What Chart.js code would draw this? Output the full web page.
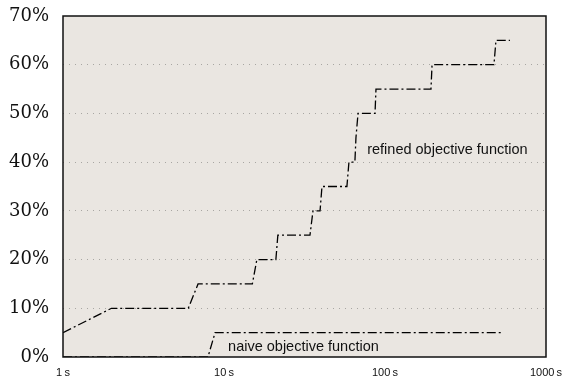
<!DOCTYPE html>
<html>
<head>
<meta charset="utf-8">
<script src="https://cdn.jsdelivr.net/npm/chart.js@4/dist/chart.umd.min.js"></script>
<style>
  html, body { margin: 0; padding: 0; background: #fff; }
  #wrap { width: 563px; height: 379px; }
</style>
</head>
<body>
<div id="wrap"><canvas id="chart" width="563" height="379"></canvas></div>
<script>
// temps (s) et pourcentage résolu
const refinedT   = [1, 2, 6, 6.9, 15, 16, 21, 21.6, 34.2, 35.7, 39.5, 40.6, 58, 59.7, 65, 66, 68, 86.7, 87.9, 193, 196, 475, 489, 597];
const refinedPct = [5, 10, 10, 15, 15, 20, 20, 25, 25, 30, 30, 35, 35, 40, 40, 45, 50, 50, 55, 55, 60, 60, 65, 65];
const naiveT     = [1, 7.95, 8.8, 540];
const naivePct   = [0, 0, 5, 5];
const xTicks     = [1, 10, 100, 1000];
const xLabels    = ['1\u2009s', '10\u2009s', '100\u2009s', '1000\u2009s'];
const seriesNames = ['refined objective function', 'naive objective function'];

window.onload = () => {
    const ctx = document.getElementById('chart').getContext('2d');

    const toPoints = (xs, ys) => xs.map((t, i) => ({ x: t, y: ys[i] }));

    // fond gris + cadre
    const plotBg = {
        id: 'plotBg',
        beforeDraw(chart) {
            const a = chart.chartArea;
            const c = chart.ctx;
            c.save();
            c.fillStyle = '#eae6e1';
            c.fillRect(a.left, a.top, a.right - a.left, a.bottom - a.top);
            c.restore();
        },
        afterDraw(chart) {
            const a = chart.chartArea;
            const c = chart.ctx;
            c.save();
            c.strokeStyle = '#111';
            c.lineWidth = 1.5;
            c.strokeRect(a.left, a.top, a.right - a.left, a.bottom - a.top);
            // étiquettes des courbes
            const xs = chart.scales.x, ys = chart.scales.y;
            c.fillStyle = '#111';
            c.font = '14.5px "Liberation Sans", Arial, sans-serif';
            c.textBaseline = 'middle';
            c.textAlign = 'left';
            c.fillText(seriesNames[0], xs.getPixelForValue(77.5), ys.getPixelForValue(42.5));
            c.fillText(seriesNames[1], xs.getPixelForValue(10.6), ys.getPixelForValue(2.1));
            c.restore();
        }
    };

    const lineStyle = {
        borderColor: '#000',
        borderWidth: 1.3,
        borderDash: [9, 3, 2, 3],
        pointRadius: 0,
        tension: 0,
        fill: false
    };

    new Chart(ctx, {
        type: 'line',
        data: {
            datasets: [
                Object.assign({ label: seriesNames[0], data: toPoints(refinedT, refinedPct) }, lineStyle),
                Object.assign({ label: seriesNames[1], data: toPoints(naiveT, naivePct) }, lineStyle)
            ]
        },
        options: {
            responsive: false,
            animation: false,
            layout: { padding: { top: 16, right: 17, left: 0, bottom: 0 } },
            plugins: {
                legend: { display: false },
                tooltip: { enabled: false }
            },
            scales: {
                x: {
                    type: 'logarithmic',
                    min: 1,
                    max: 1000,
                    afterBuildTicks: scale => {
                        scale.ticks = xTicks.map(v => ({ value: v }));
                    },
                    afterFit: scale => {
                        scale.height = 22;
                        scale.paddingLeft = 0;
                        scale.paddingRight = 0;
                    },
                    grid: { display: false, drawTicks: false },
                    border: { display: false },
                    ticks: {
                        autoSkip: false,
                        maxRotation: 0,
                        padding: 9,
                        color: '#111',
                        font: { family: '"Liberation Sans", Arial, sans-serif', size: 11 },
                        callback: (value) => {
                            const i = xTicks.indexOf(value);
                            return i >= 0 ? xLabels[i] : '';
                        }
                    }
                },
                y: {
                    min: 0,
                    max: 70,
                    afterFit: scale => {
                        scale.width = 63;
                        scale.paddingTop = 0;
                        scale.paddingBottom = 0;
                    },
                    grid: {
                        drawTicks: false,
                        color: c => (c.tick.value === 0 || c.tick.value === 70) ? 'rgba(0,0,0,0)' : '#a8a6a2',
                        lineWidth: 1
                    },
                    border: { display: false, dash: [1, 5] },
                    ticks: {
                        stepSize: 10,
                        padding: 14,
                        color: '#111',
                        font: { family: '"DejaVu Serif", serif', size: 18 },
                        callback: v => v + '%'
                    }
                }
            }
        },
        plugins: [plotBg]
    });
};
</script>
</body>
</html>
